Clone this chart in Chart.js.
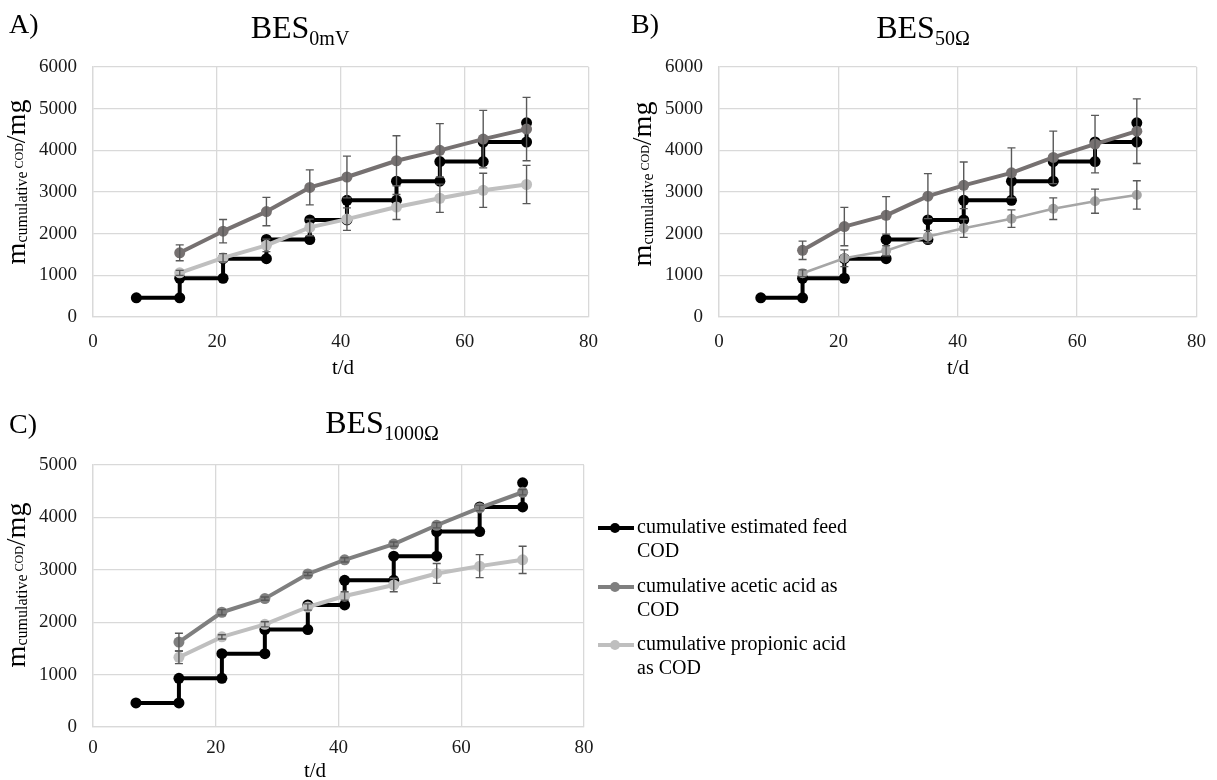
<!DOCTYPE html>
<html>
<head>
<meta charset="utf-8">
<title>Cumulative COD</title>
<script src="https://cdn.jsdelivr.net/npm/chart.js@4.4.1/dist/chart.umd.min.js"></script>
<style>
  html, body { margin: 0; padding: 0; background: #fff; overflow: hidden; width: 1217px; height: 780px; }
  canvas { position: absolute; }
  #chartA { left: 0; top: 0; }
  #chartB { left: 620px; top: 0; }
  #chartC { left: 0; top: 400px; }
</style>
</head>
<body>
<canvas id="chartA" width="612" height="390"></canvas>
<canvas id="chartB" width="600" height="390"></canvas>
<canvas id="chartC" width="880" height="380"></canvas>
<script>
const SERIF = '"Liberation Serif", "Times New Roman", Times, serif';

// sampling days of the acid measurements
const days = [14, 21, 28, 35, 41, 49, 56, 63, 70];

// estimated feed is a staircase, every feeding day shows up twice
const feedDays = [7, 14, 14, 21, 21, 28, 28, 35, 35, 41, 41, 49, 49, 56, 56, 63, 63, 70, 70];
const feedCod = [460, 460, 930, 930, 1400, 1400, 1860, 1860, 2330, 2330, 2800, 2800, 3260, 3260, 3730, 3730, 4200, 4200, 4660];

// A) BES 0mV
const aceticA = [1540, 2060, 2530, 3110, 3360, 3750, 4000, 4270, 4510];
const aceticErrA = [190, 280, 340, 420, 500, 600, 640, 690, 760];
const propionicA = [1060, 1420, 1720, 2150, 2350, 2640, 2850, 3040, 3180];
const propionicErrA = [60, 100, 150, 200, 270, 300, 340, 410, 460];

// B) BES 50 ohm
const aceticB = [1600, 2170, 2440, 2900, 3160, 3460, 3830, 4150, 4460];
const aceticErrB = [220, 460, 450, 540, 560, 600, 630, 690, 775];
const propionicB = [1050, 1410, 1590, 1930, 2130, 2360, 2600, 2780, 2930];
const propionicErrB = [80, 200, 120, 150, 220, 210, 260, 290, 340];

// C) BES 1000 ohm
const aceticC = [1620, 2190, 2450, 2920, 3190, 3490, 3850, 4180, 4480];
const aceticErrC = [170, 50, 30, 30, 40, 40, 50, 50, 50];
const propionicC = [1330, 1720, 1960, 2290, 2500, 2710, 2930, 3070, 3190];
const propionicErrC = [120, 40, 50, 60, 80, 130, 190, 220, 260];

const xTicks = [0, 20, 40, 60, 80];
const yTicksAB = [0, 1000, 2000, 3000, 4000, 5000, 6000];
const yTicksC = [0, 1000, 2000, 3000, 4000, 5000];

const legendLabels = [
    ['cumulative estimated feed', 'COD'],
    ['cumulative acetic acid as', 'COD'],
    ['cumulative propionic acid', 'as COD']
];

function toPoints(xs, ys) {
    return xs.map((x, i) => ({ x: x, y: ys[i] }));
}

function runsWidth(ctx, runs) {
    let w = 0;
    runs.forEach(r => {
        ctx.font = r.size + 'px ' + SERIF;
        w += ctx.measureText(r.text).width;
    });
    return w;
}

function drawRuns(ctx, runs, x, y) {
    let cx = x;
    runs.forEach(r => {
        ctx.font = r.size + 'px ' + SERIF;
        ctx.fillText(r.text, cx, y + (r.dy || 0));
        cx += ctx.measureText(r.text).width;
    });
}

const errorBars = {
    id: 'errorBars',
    afterDatasetDraw(chart, args) {
        const ds = chart.data.datasets[args.index];
        if (!ds.errors) return;
        const ctx = chart.ctx;
        const y = chart.scales.y;
        ctx.save();
        ctx.strokeStyle = '#595959';
        ctx.lineWidth = 1.4;
        args.meta.data.forEach((pt, i) => {
            const v = ds.data[i].y;
            const e = ds.errors[i];
            const top = y.getPixelForValue(v + e);
            const bottom = y.getPixelForValue(v - e);
            ctx.beginPath();
            ctx.moveTo(pt.x, top);
            ctx.lineTo(pt.x, bottom);
            ctx.moveTo(pt.x - 4, top);
            ctx.lineTo(pt.x + 4, top);
            ctx.moveTo(pt.x - 4, bottom);
            ctx.lineTo(pt.x + 4, bottom);
            ctx.stroke();
        });
        ctx.restore();
    }
};

const panelText = {
    id: 'panelText',
    afterDraw(chart, args, opts) {
        const ctx = chart.ctx;
        ctx.save();
        ctx.fillStyle = '#000';
        ctx.textBaseline = 'alphabetic';
        ctx.textAlign = 'left';

        ctx.font = '28px ' + SERIF;
        ctx.fillText(opts.letter, opts.letterX, opts.letterY);

        const title = [{ text: 'BES', size: 32 }, { text: opts.sub, size: 20, dy: 7 }];
        drawRuns(ctx, title, opts.titleX - runsWidth(ctx, title) / 2, opts.titleY);

        const yTitle = [
            { text: 'm', size: 28 },
            { text: 'cumulative', size: 16, dy: 2 },
            { text: ' COD', size: 12, dy: -2 },
            { text: '/mg', size: 28 }
        ];
        ctx.save();
        ctx.translate(opts.yTitleX, opts.yTitleY);
        ctx.rotate(-Math.PI / 2);
        drawRuns(ctx, yTitle, -runsWidth(ctx, yTitle) / 2, 0);
        ctx.restore();

        ctx.font = '21px ' + SERIF;
        ctx.textAlign = 'center';
        ctx.fillText('t/d', opts.xTitleX, opts.xTitleY);

        if (opts.legend) {
            const colors = ['#000000', '#7f7f7f', '#bfbfbf'];
            const rows = [128, 187, 245];
            ctx.textAlign = 'left';
            ctx.font = '20px ' + SERIF;
            legendLabels.forEach((lines, i) => {
                const ly = rows[i];
                ctx.strokeStyle = colors[i];
                ctx.fillStyle = colors[i];
                ctx.lineWidth = 4;
                ctx.beginPath();
                ctx.moveTo(598, ly);
                ctx.lineTo(634, ly);
                ctx.stroke();
                ctx.beginPath();
                ctx.arc(615, ly, 5, 0, Math.PI * 2);
                ctx.fill();
                ctx.fillStyle = '#000';
                lines.forEach((t, j) => ctx.fillText(t, 637, ly + 5 + j * 24));
            });
        }
        ctx.restore();
    }
};

function buildChart(canvasId, cfg) {
    const ctx = document.getElementById(canvasId).getContext('2d');
    const tickFont = { family: SERIF, size: 19, lineHeight: 1.2 };
    const yTicks = cfg.yTicks;
    return new Chart(ctx, {
        type: 'line',
        data: {
            datasets: [
                {
                    label: 'cumulative estimated feed COD',
                    data: toPoints(feedDays, feedCod),
                    borderColor: '#000000',
                    backgroundColor: '#000000',
                    borderWidth: 4,
                    pointRadius: 5.5,
                    pointBorderWidth: 0,
                    pointBackgroundColor: '#000000',
                    order: 2
                },
                {
                    label: 'cumulative acetic acid as COD',
                    data: toPoints(days, cfg.acetic),
                    errors: cfg.aceticErr,
                    borderColor: cfg.aceticColor,
                    backgroundColor: cfg.aceticColor,
                    borderWidth: 4,
                    pointRadius: 5.5,
                    pointBorderWidth: 0,
                    pointBackgroundColor: cfg.aceticColor,
                    order: 1
                },
                {
                    label: 'cumulative propionic acid as COD',
                    data: toPoints(days, cfg.propionic),
                    errors: cfg.propionicErr,
                    borderColor: cfg.propionicColor,
                    backgroundColor: cfg.propionicColor,
                    borderWidth: cfg.propionicWidth,
                    pointRadius: cfg.propionicRadius,
                    pointBorderWidth: 0,
                    pointBackgroundColor: cfg.propionicColor,
                    order: 0
                }
            ]
        },
        options: {
            responsive: false,
            animation: false,
            events: [],
            layout: { padding: cfg.padding },
            elements: { line: { tension: 0, borderJoinStyle: 'round', borderCapStyle: 'round' } },
            plugins: {
                legend: { display: false },
                tooltip: { enabled: false },
                panelText: cfg.text
            },
            scales: {
                x: {
                    type: 'linear',
                    min: xTicks[0],
                    max: xTicks[xTicks.length - 1],
                    ticks: { stepSize: xTicks[1] - xTicks[0], padding: cfg.xTickPad, font: tickFont, color: '#1a1a1a', maxRotation: 0 },
                    grid: { color: '#d9d9d9', lineWidth: 1.3, drawTicks: false },
                    border: { color: '#d9d9d9', width: 1.3 },
                    afterFit(scale) { scale.height = cfg.xAxisHeight; }
                },
                y: {
                    min: yTicks[0],
                    max: yTicks[yTicks.length - 1],
                    ticks: { stepSize: yTicks[1] - yTicks[0], padding: 16, font: tickFont, color: '#1a1a1a', callback: v => String(v) },
                    grid: { color: '#d9d9d9', lineWidth: 1.3, drawTicks: false },
                    border: { color: '#d9d9d9', width: 1.3 },
                    afterFit(scale) { scale.width = cfg.yAxisWidth; }
                }
            }
        },
        plugins: [errorBars, panelText]
    });
}

function renderCharts() {
    buildChart('chartA', {
        acetic: aceticA, aceticErr: aceticErrA, aceticColor: '#767171',
        propionic: propionicA, propionicErr: propionicErrA, propionicColor: '#bfbfbf',
        propionicWidth: 4, propionicRadius: 5.5,
        yTicks: yTicksAB,
        padding: { left: 0, top: 67, right: 23, bottom: 0 },
        yAxisWidth: 93, xAxisHeight: 73, xTickPad: 14,
        text: { letter: 'A)', letterX: 9, letterY: 33, sub: '0mV', titleX: 300, titleY: 38,
            yTitleX: 25, yTitleY: 182, xTitleX: 343, xTitleY: 374 }
    });

    buildChart('chartB', {
        acetic: aceticB, aceticErr: aceticErrB, aceticColor: '#767171',
        propionic: propionicB, propionicErr: propionicErrB, propionicColor: '#a6a6a6',
        propionicWidth: 2.5, propionicRadius: 5,
        yTicks: yTicksAB,
        padding: { left: 0, top: 67, right: 13, bottom: 0 },
        yAxisWidth: 99, xAxisHeight: 73, xTickPad: 14,
        text: { letter: 'B)', letterX: 11, letterY: 33, sub: '50Ω', titleX: 303, titleY: 38,
            yTitleX: 31, yTitleY: 184, xTitleX: 338, xTitleY: 374 }
    });

    buildChart('chartC', {
        acetic: aceticC, aceticErr: aceticErrC, aceticColor: '#7f7f7f',
        propionic: propionicC, propionicErr: propionicErrC, propionicColor: '#bfbfbf',
        propionicWidth: 4, propionicRadius: 5.5,
        yTicks: yTicksC,
        padding: { left: 0, top: 65, right: 296, bottom: 0 },
        yAxisWidth: 93, xAxisHeight: 53, xTickPad: 10,
        text: { letter: 'C)', letterX: 9, letterY: 33, sub: '1000Ω', titleX: 382, titleY: 33,
            yTitleX: 25, yTitleY: 185, xTitleX: 315, xTitleY: 377, legend: true }
    });
}

window.addEventListener('DOMContentLoaded', renderCharts);
</script>
</body>
</html>
